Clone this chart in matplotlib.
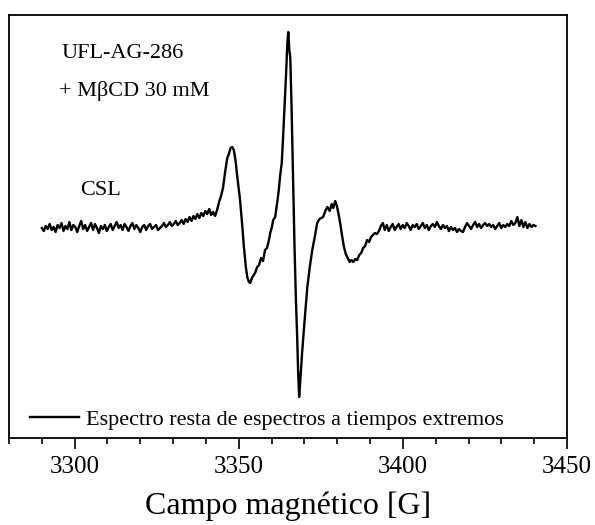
import numpy as np
import matplotlib
matplotlib.use("Agg")
import matplotlib.pyplot as plt

plt.rcParams["font.family"] = ["Liberation Serif", "DejaVu Serif"]

# baseline noise before the signal (3290 - 3342 G)
left_noise = [0, -3, 2, -1, 4, -2, 1, -4, 3, 0, 5, -3, 2, -1, 6, -2, 3, 1, -4, 2,
              7, -1, 3, -3, 1, 5, -2, 4, 0, -5, 2, -1, 3, -3, 1, 4, -2, 2, 6, 0,
              3, -2, 4, 1, -3, 2, 5, -1, 3, 0, -4, 1, 3, -2, 2, 4, -1, 1, 3, -2,
              0, 2, 5, 1, 3, 6, 2, 4, 7, 3, 5, 8, 4, 9, 6, 11, 7, 12, 9, 14,
              10, 15, 12, 17, 14, 19, 13, 16]

# main signal region
field_peak = [3342.8, 3343.4, 3344.0, 3344.6, 3345.2, 3345.8, 3346.5, 3347.0, 3347.5, 3348.0,
              3348.5, 3349.0, 3349.6, 3350.4, 3351.0, 3351.6, 3352.2, 3352.6, 3353.1, 3353.5,
              3354.0, 3354.6, 3355.1, 3355.6, 3356.2, 3356.8, 3357.4, 3358.0, 3358.6, 3359.2,
              3359.6, 3360.1, 3360.5, 3361.1, 3361.7, 3362.2, 3362.6, 3363.1, 3363.5, 3364.0,
              3364.5, 3364.8, 3365.1, 3365.4, 3365.7, 3366.1, 3366.6, 3367.0, 3367.4, 3367.8,
              3368.1, 3368.4, 3368.7, 3369.3, 3370.0, 3370.9, 3371.6, 3372.4, 3373.1, 3373.9,
              3374.6, 3375.7, 3376.5, 3377.0, 3377.7, 3378.3, 3378.8, 3379.4, 3379.9, 3380.4,
              3380.9, 3381.5, 3382.0, 3382.6, 3383.2, 3383.8, 3384.3, 3384.9, 3385.5, 3386.1,
              3386.7, 3387.3, 3387.9, 3388.5, 3389.1, 3389.7, 3390.3, 3390.9, 3391.5, 3392.1,
              3392.7, 3393.3, 3393.9, 3394.5, 3395.1, 3395.7, 3396.3, 3396.9, 3397.5]
signal_peak = [12, 18, 26, 32, 40, 55, 70, 74, 80, 81,
               78, 68, 50, 28, 5, -20, -40, -49, -54, -55,
               -50, -47, -44, -39, -37, -30, -33, -22, -20, -12,
               -5, 1, 8, 11, 25, 38, 52, 65, 90, 125,
               160, 185, 196, 178, 171, 120, 41, -20, -70, -109,
               -145, -169, -155, -125, -95, -59, -40, -22, -10, 5,
               9, 11, 18, 21, 17, 24, 20, 27, 22, 14,
               5, -8, -18, -26, -30, -34, -32, -34, -31, -32,
               -27, -25, -20, -18, -12, -14, -9, -7, -5, -6,
               -3, 2, 5, -2, 3, -3, 1, 4, -2]

# baseline noise after the signal (3398 - 3440 G)
right_noise = [1, 4, -1, 3, 0, 5, 2, -2, 3, 1, 4, -1, 2, 5, 0, 3, -2, 2, 4, 1,
               6, 2, -1, 3, 0, 2, -3, 1, -2, 0, -4, -1, -3, -4, 1, 5, 2, -1, 3, 6,
               1, 4, 0, 3, 5, 2, 4, 1, 3, -1, 2, 5, 0, 3, 1, 4, 2, 7, 3, 5,
               11, 2, 8, 1, 6, 0, 4, 1, 3, 2]

field = np.concatenate([np.linspace(3290.0, 3342.2, len(left_noise)),
                        field_peak,
                        np.linspace(3398.1, 3440.4, len(right_noise))])
signal = np.concatenate([left_noise, signal_peak, right_noise])

fig = plt.figure(figsize=(5.95, 5.25), dpi=100)
ax = fig.add_axes([0.0151, 0.1657, 0.9378, 0.8057])

ax.plot(field, signal, color="black", linewidth=1.7,
        label="Espectro resta de espectros a tiempos extremos")

ax.set_xlim(3280, 3450)
ax.set_ylim(-210, 213)
ax.set_xticks([3300, 3350, 3400, 3450])
ax.set_xticks(np.arange(3280, 3451, 10), minor=True)
ax.set_yticks([])
ax.tick_params(axis="x", which="major", direction="out", length=8, width=1.2, labelsize=18, pad=5)
ax.tick_params(axis="x", which="minor", direction="out", length=4, width=1.2)
for s in ax.spines.values():
    s.set_linewidth(1.3)

ax.set_xlabel("Campo magnético [G]", fontsize=23, labelpad=10)

ax.text(0.095, 0.91, "UFL-AG-286", transform=ax.transAxes, fontsize=16, va="center")
ax.text(0.09, 0.82, "+ MβCD 30 mM", transform=ax.transAxes, fontsize=16, va="center")
ax.text(0.128, 0.585, "CSL", transform=ax.transAxes, fontsize=16, va="center")

ax.legend(loc="lower left", bbox_to_anchor=(0.01, -0.017), frameon=False, fontsize=16,
          handlelength=2.2, handletextpad=0.3, borderaxespad=0.3)

fig.savefig("out.png", dpi=100)
